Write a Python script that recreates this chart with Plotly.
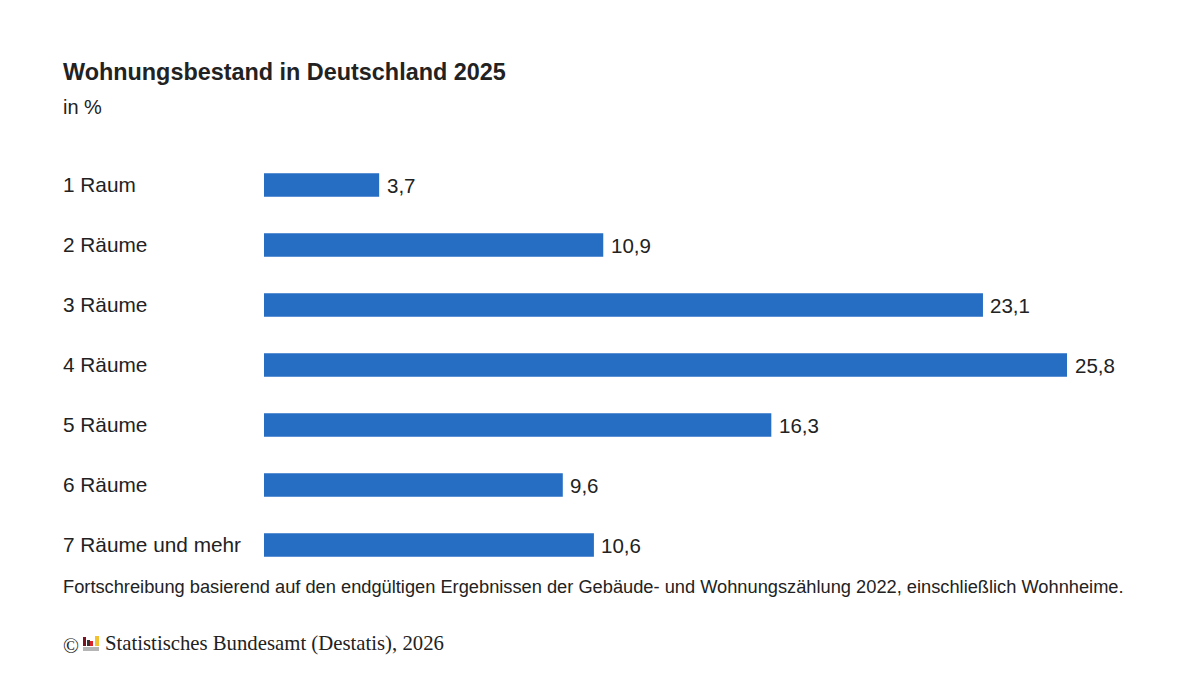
import plotly.graph_objects as go

categories = ["1 Raum", "2 Räume", "3 Räume", "4 Räume", "5 Räume", "6 Räume", "7 Räume und mehr"]
values = [3.7, 10.9, 23.1, 25.8, 16.3, 9.6, 10.6]
value_labels = ["3,7", "10,9", "23,1", "25,8", "16,3", "9,6", "10,6"]

FONT = "Liberation Sans"
TEXT = "#222222"


def add_text(text, left, middle, size, family=FONT):
    # pixel placed text, measured from the top left of the page
    fig.add_annotation(
        xref="paper", yref="paper", x=left / 1200, y=1 - middle / 675, text=text,
        showarrow=False, xanchor="left", yanchor="middle", borderpad=0, borderwidth=0,
        font=dict(family=family, size=size, color=TEXT),
    )


fig = go.Figure()
fig.add_trace(go.Bar(
    y=categories, x=values, orientation="h",
    marker=dict(color="#266ec4", line=dict(width=0)),
    width=0.39,
    cliponaxis=False,
    hoverinfo="skip",
))

fig.update_layout(
    width=1200, height=675,
    margin=dict(l=0, r=0, t=0, b=0, pad=0),
    paper_bgcolor="white", plot_bgcolor="white",
    showlegend=False,
    font=dict(family=FONT, color=TEXT),
    xaxis=dict(domain=[264 / 1200, 1067 / 1200], range=[0, 25.8], visible=False),
    yaxis=dict(
        domain=[1 - 575 / 675, 1 - 155 / 675], autorange="reversed",
        showline=False, showticklabels=False, ticks="",
    ),
)

for cat, val, label in zip(categories, values, value_labels):
    fig.add_annotation(
        xref="paper", yref="y", x=63 / 1200, y=cat, text=cat,
        showarrow=False, xanchor="left", yshift=0.5, borderpad=0, borderwidth=0,
        font=dict(family=FONT, size=20.8, color=TEXT),
    )
    fig.add_annotation(
        xref="x", yref="y", x=val, y=cat, text=label,
        showarrow=False, xanchor="left", xshift=7.5, yshift=-0.5, borderpad=0, borderwidth=0,
        font=dict(family=FONT, size=20.5, color=TEXT),
    )

add_text("<b>Wohnungsbestand in Deutschland 2025</b>", 63, 72, 23.4)
add_text("in %", 63, 107, 20)
add_text("Fortschreibung basierend auf den endgültigen Ergebnissen der Gebäude- und "
         "Wohnungszählung 2022, einschließlich Wohnheime.", 63, 586, 18.25)
add_text("©", 63, 646, 21, family="Liberation Serif")
add_text("Statistisches Bundesamt (Destatis), 2026", 105, 643, 20.75, family="Liberation Serif")

# small logo next to the copyright sign
for x0, x1, y0, y1, c in [
    (83, 86, 637, 646, "#7a1420"),
    (87, 90, 640, 646, "#333333"),
    (90, 93, 641, 646, "#d8232a"),
    (95, 99, 636, 646, "#f2c230"),
    (83, 99, 647, 651, "#b5b5b5"),
]:
    fig.add_shape(type="rect", xref="paper", yref="paper",
                  x0=x0 / 1200, x1=x1 / 1200, y0=1 - y1 / 675, y1=1 - y0 / 675,
                  fillcolor=c, line=dict(width=0))

fig.write_html("out.html", config={"displayModeBar": False},
               post_script="document.body.style.margin='0';")
